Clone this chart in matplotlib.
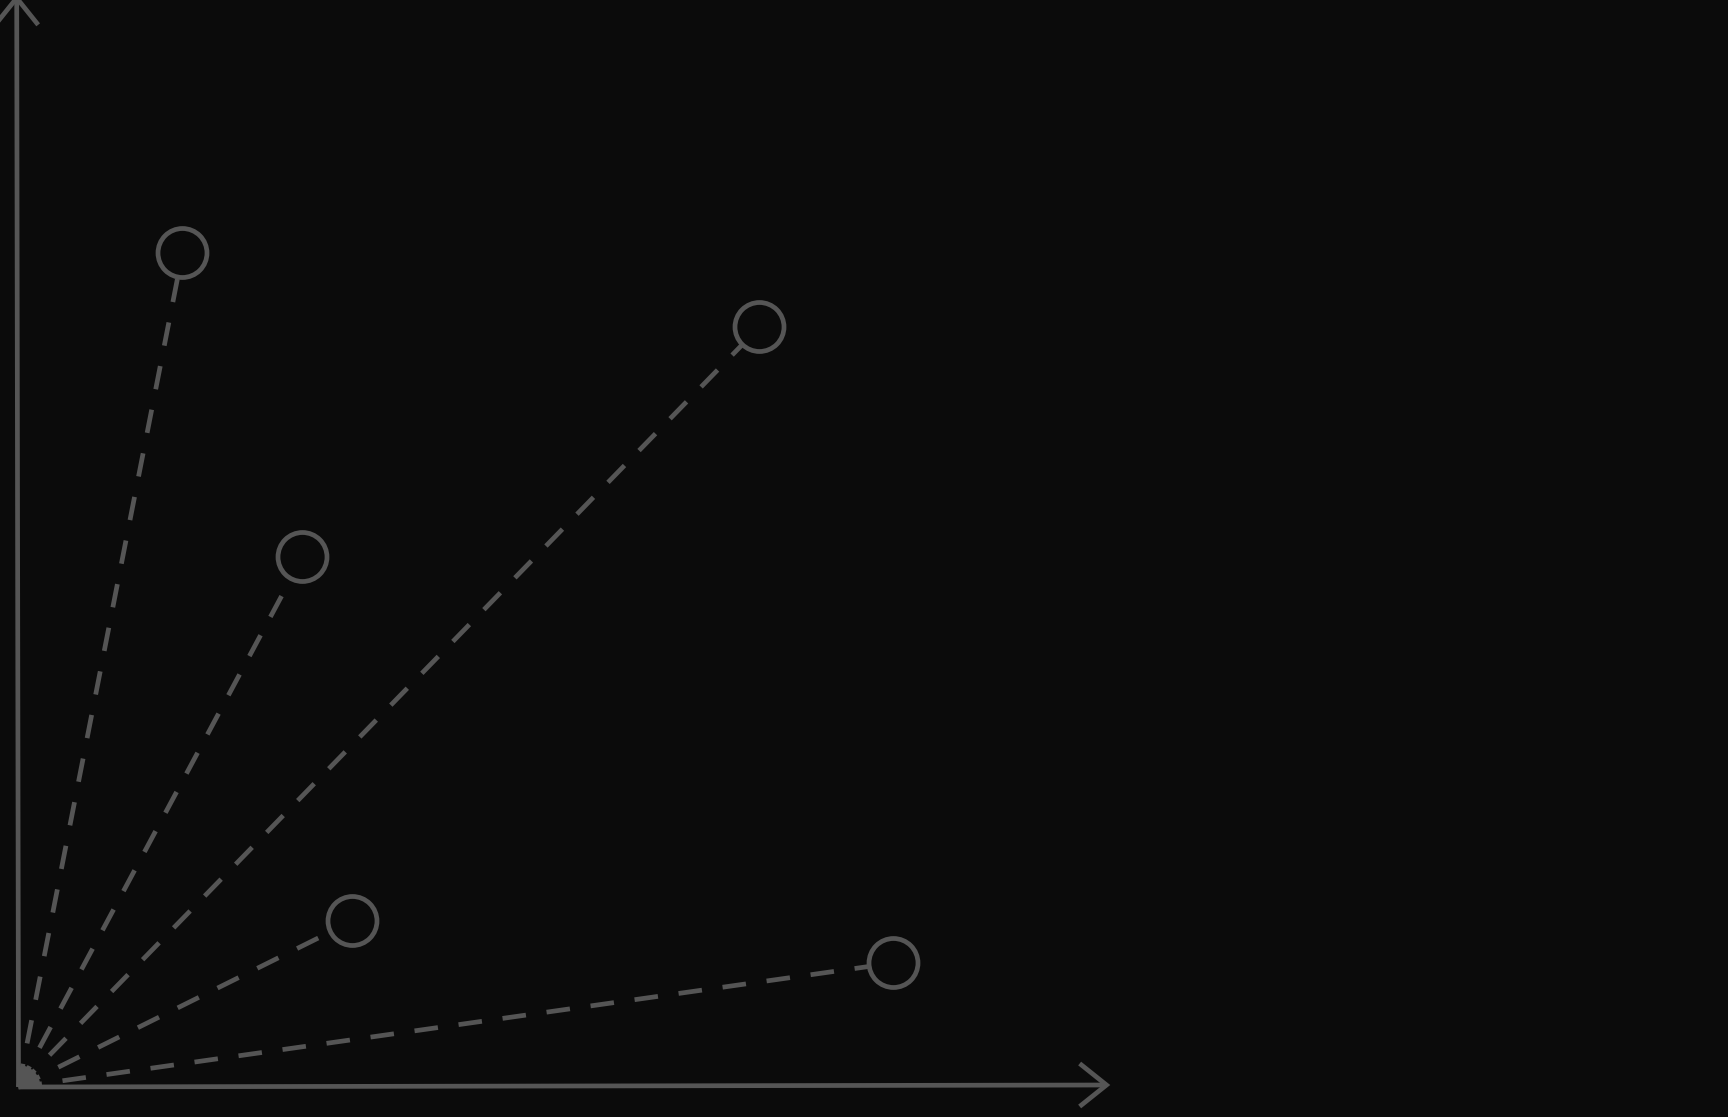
import matplotlib
matplotlib.use("Agg")
import matplotlib.pyplot as plt
from matplotlib.patches import Circle, Wedge

# Data (arbitrary units, origin at 0,0)
point_x = [16.4, 74.1, 28.4, 33.4, 87.5]
point_y = [83.4, 76.0, 53.0, 16.6, 12.4]

BG = "#0b0b0b"
FG = "#555555"
LW = 3.4  # points

plt.rcParams["lines.scale_dashes"] = False

fig = plt.figure(figsize=(17.28, 11.17), dpi=100, facecolor=BG)
ax = fig.add_axes([0, 0, 1, 1])
ax.set_facecolor(BG)
ax.set_xlim(-1.85, 170.95)
ax.set_ylim(-3.0, 108.7)
ax.axis("off")

# axes arrows
x_end, y_end = 108.8, 108.9
ax.plot([0, x_end], [0, 0.2], color=FG, lw=LW, solid_capstyle="butt", zorder=2)
ax.plot([0, -0.18], [0, y_end], color=FG, lw=LW, solid_capstyle="butt", zorder=2)
# arrow heads (open chevrons)
hl, hw = 2.5, 2.0
ax.plot([x_end - hl, x_end, x_end - hl], [0.2 + hw, 0.2, 0.2 - hw],
        color=FG, lw=LW, solid_joinstyle="miter", zorder=2)
ax.plot([-0.18 - hw, -0.18, -0.18 + hw], [y_end - hl, y_end, y_end - hl],
        color=FG, lw=LW, solid_joinstyle="miter", zorder=2)

# small wedge at origin
ax.add_patch(Wedge((0, 0), 2.2, 3, 84, facecolor=FG, edgecolor="none", zorder=2))

# dashed rays and hollow circles
for x, y in zip(point_x, point_y):
    ax.plot([0, x], [0, y], color=FG, lw=LW, linestyle=(0, (17, 15)),
            dash_capstyle="butt", zorder=1)
    ax.add_patch(Circle((x, y), 2.45, facecolor=BG, edgecolor=FG, lw=LW, zorder=3))

fig.savefig("out.png", dpi=100, facecolor=BG)
